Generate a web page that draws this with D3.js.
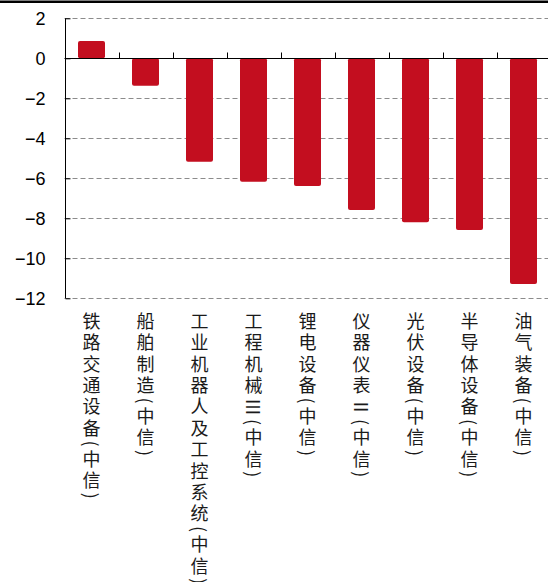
<!DOCTYPE html>
<html>
<head>
<meta charset="utf-8">
<script src="https://cdn.jsdelivr.net/npm/d3@7"></script>
<style>
  html, body { margin: 0; padding: 0; background: #fff; }
  svg { display: block; }
  .vlabel { writing-mode: vertical-rl; text-orientation: mixed; }
  .side { text-orientation: sideways; }
</style>
</head>
<body>
<svg id="chart" width="548" height="582"></svg>
<script>
// Industry returns (%), CITIC sector indices
const categories = [
  "铁路交通设备(中信)",
  "船舶制造(中信)",
  "工业机器人及工控系统(中信)",
  "工程机械Ⅲ(中信)",
  "锂电设备(中信)",
  "仪器仪表Ⅱ(中信)",
  "光伏设备(中信)",
  "半导体设备(中信)",
  "油气装备(中信)"
];
const values = [0.86, -1.37, -5.17, -6.17, -6.38, -7.58, -8.2, -8.58, -11.28];
const yTicks = [2, 0, -2, -4, -6, -8, -10, -12];

const svg = d3.select("#chart");
const W = 548;
const plot = { left: 64.5, right: 550.5, top: 18.3, bottom: 298.3 };

const x = d3.scaleBand()
  .domain(categories)
  .range([plot.left, plot.right])
  .paddingInner(0.5)
  .paddingOuter(0.25);

const y = d3.scaleLinear()
  .domain([-12, 2])
  .range([plot.bottom, plot.top]);

// top rule
svg.append("rect")
  .attr("x", 0).attr("y", 0.5)
  .attr("width", W).attr("height", 2.5)
  .attr("fill", "#000");

// dashed gridlines
svg.append("g")
  .selectAll("line")
  .data(yTicks.filter(d => d !== 0))
  .join("line")
  .attr("x1", plot.left).attr("x2", W)
  .attr("y1", d => Math.round(y(d)) + 0.5)
  .attr("y2", d => Math.round(y(d)) + 0.5)
  .attr("stroke", "#8c8c8c")
  .attr("stroke-width", 1)
  .attr("stroke-dasharray", "5,3");

// bars
svg.append("g")
  .selectAll("rect")
  .data(values)
  .join("rect")
  .attr("x", (d, i) => x(categories[i]))
  .attr("width", x.bandwidth())
  .attr("y", d => y(Math.max(0, d)))
  .attr("height", d => Math.abs(y(d) - y(0)))
  .attr("rx", 2).attr("ry", 2)
  .attr("fill", "#c30e1f");

// y axis
const yAxis = d3.axisLeft(y)
  .tickValues(yTicks)
  .tickSize(-5)
  .tickPadding(20)
  .tickFormat(d3.format("d"));
const gy = svg.append("g")
  .attr("transform", `translate(${Math.round(plot.left) + 0.5},0)`)
  .call(yAxis);
gy.select(".domain").attr("stroke", "#000").attr("d", `M0,${y(2)}V${y(-12)}`);
gy.selectAll(".tick line").attr("stroke", "#000");
gy.selectAll(".tick text")
  .attr("fill", "#000")
  .attr("font-family", "'Liberation Sans', Arial, sans-serif")
  .attr("font-size", 18);

// x axis along zero with boundary ticks
const y0 = Math.round(y(0)) + 0.5;
svg.append("line")
  .attr("x1", plot.left).attr("x2", W)
  .attr("y1", y0).attr("y2", y0)
  .attr("stroke", "#000").attr("stroke-width", 1.2);
const step = x.step();
svg.append("g")
  .selectAll("line")
  .data(categories.slice(1))
  .join("line")
  .attr("x1", d => Math.round(x(d) - step * 0.25) + 0.5)
  .attr("x2", d => Math.round(x(d) - step * 0.25) + 0.5)
  .attr("y1", y0 - 6).attr("y2", y0)
  .attr("stroke", "#000");

// vertical category labels; Roman numerals turned sideways
const labels = svg.append("g")
  .attr("font-family", "'Noto Sans CJK SC', sans-serif")
  .attr("font-size", 18)
  .attr("fill", "#1a1a1a");
categories.forEach(cat => {
  const cx = x(cat) + x.bandwidth() / 2;
  const t = labels.append("text")
    .attr("class", "vlabel")
    .attr("x", cx).attr("y", 312)
    .attr("letter-spacing", 3.4);
  cat.split(/([ⅡⅢ])/).filter(s => s.length).forEach(part => {
    const sp = t.append("tspan").text(part);
    if (/[ⅡⅢ]/.test(part)) sp.attr("class", "side");
  });
});
</script>
</body>
</html>
